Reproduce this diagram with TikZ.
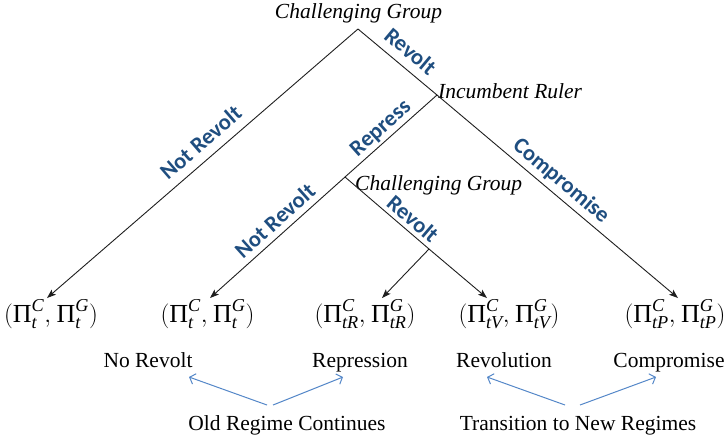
\documentclass[tikz,border=0pt]{standalone}
\usepackage{fontspec}
\usepackage{amsmath}
\setmainfont{Liberation Serif}
\newfontfamily\lblfont{Carlito}
\usetikzlibrary{arrows.meta}
\definecolor{lblblue}{RGB}{31,78,128}
\definecolor{arrblue}{RGB}{84,135,200}
\definecolor{linegray}{RGB}{30,30,30}
\newcommand{\payoff}[1]{$(\text{Π}^{\textit{C}}_{\textit{#1}},\mkern1mu\text{Π}^{\textit{G}}_{\textit{#1}})$}

\begin{document}
\begin{tikzpicture}[x=1pt,y=-1pt,
  tline/.style={draw=linegray, line width=0.9pt},
  tarrow/.style={tline, -{Stealth[length=9pt,width=6.5pt,inset=2pt]}},
  blab/.style={font=\lblfont\bfseries\fontsize{22.5}{22.5}\selectfont, text=lblblue, sloped, inner sep=0pt, text height=15.5pt, text depth=4.5pt},
  actor/.style={font=\itshape\fontsize{21.5}{24}\selectfont, inner sep=0pt},
  outc/.style={font=\fontsize{21.5}{24}\selectfont, inner sep=0pt},
  payoffnode/.style={font=\fontsize{26}{30}\selectfont, inner sep=0pt},
  barrow/.style={draw=arrblue, line width=1pt, -{Straight Barb[length=5pt,width=11pt]}}
]
\useasboundingbox (0,0) rectangle (725,440);

% decision points and arrow tips
\coordinate (r) at (358,29);
\coordinate (ir) at (437,95);
\coordinate (cg2) at (345,177);
\coordinate (ch) at (429,249);
\coordinate (t1) at (47,298);
\coordinate (t2) at (210,298);
\coordinate (t3) at (382,298);
\coordinate (t4) at (487,298);
\coordinate (t5) at (678,298);

% actor labels
\node[actor, anchor=base] (cgtop) at (358.5,18.5) {Challenging Group};
\node[actor, anchor=base west] (irl) at (438,98) {Incumbent Ruler};
\node[actor, anchor=base west] (cg2l) at (355,190) {Challenging Group};

% tree
\draw[tarrow] (r) -- node[blab, pos=.47, above=4.5pt] {Not Revolt} (t1);
\draw[tline] (r) -- node[blab, pos=.53, above=4pt] {Revolt} (ir);
\draw[tline] (ir) -- node[blab, pos=.52, above=1.5pt] {Repress} (cg2);
\draw[tarrow] (ir) -- node[blab, pos=.477, above=3pt] {Compromise} (t5);
\draw[tarrow] (cg2) -- node[blab, pos=.45, above=1.5pt] {Not Revolt} (t2);
\draw[tline] (cg2) -- node[blab, pos=.71, above=0pt] {Revolt} (ch);
\draw[tarrow] (ch) -- (t3);
\draw[tarrow] (ch) -- (t4);

% payoffs
\node[payoffnode, anchor=base] (p1) at (51,322) {\payoff{t}};
\node[payoffnode, anchor=base] (p2) at (207.5,322) {\payoff{t}};
\node[payoffnode, anchor=base] (p3) at (365,322) {\payoff{tR}};
\node[payoffnode, anchor=base] (p4) at (509,322) {\payoff{tV}};
\node[payoffnode, anchor=base] (p5) at (675,322) {\payoff{tP}};

% outcomes
\node[outc, anchor=base] (norev) at (148,367) {No Revolt};
\node[outc, anchor=base] (repr) at (360,367) {Repression};
\node[outc, anchor=base] (revo) at (504,367) {Revolution};
\node[outc, anchor=base] (comp) at (669,367) {Compromise};

\node[outc, anchor=base] (old) at (287,430) {Old Regime Continues};
\node[outc, anchor=base] (trans) at (578,430) {Transition to New Regimes};

\draw[barrow] ([shift={(-20,-25)}]old.base) -- ([shift={(41,10)}]norev.base);
\draw[barrow] ([shift={(-14,-25)}]old.base) -- ([shift={(-17,10)}]repr.base);
\draw[barrow] ([shift={(-13,-25)}]trans.base) -- ([shift={(-17,10)}]revo.base);
\draw[barrow] ([shift={(2,-25)}]trans.base) -- ([shift={(-13,10)}]comp.base);
\end{tikzpicture}
\end{document}
